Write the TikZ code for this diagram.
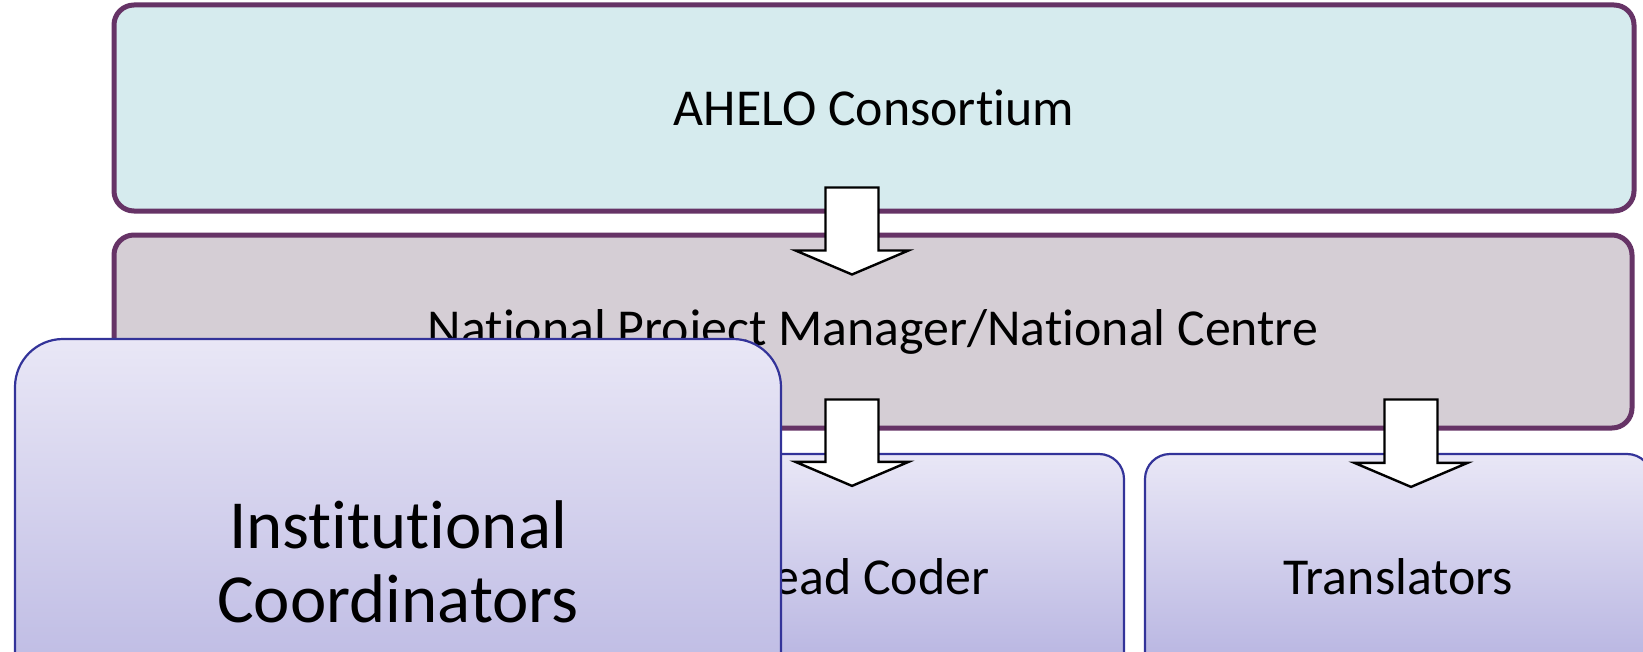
\documentclass[tikz,border=0pt]{standalone}
\usepackage{fontspec}
\setmainfont[Ligatures={NoCommon,NoRequired,NoContextual}]{Carlito}
\usetikzlibrary{calc}
\newcommand{\pix}{0.02cm}
\definecolor{framepurple}{RGB}{102,51,102}
\definecolor{consfill}{RGB}{214,235,238}
\definecolor{npmfill}{RGB}{213,206,213}
\definecolor{roleframe}{RGB}{51,51,153}
\definecolor{roletop}{RGB}{233,231,246}
\definecolor{rolebottom}{RGB}{176,173,222}
\newcommand{\levelfont}{\fontsize{29.5}{35}\selectfont}
\newcommand{\bigrolefont}{\fontsize{39.2}{42.1}\selectfont}
% block arrow from tail point #1 down to tip point #2
\newcommand{\blockarrow}[2]{%
  \draw[blockarrow] ($#1+(-26.5,0)$) -- ($#1+(26.5,0)$) -- ($#2+(26.5,-24)$) -- ($#2+(56.5,-24)$)
    -- #2 -- ($#2+(-56.5,-24)$) -- ($#2+(-26.5,-24)$) -- cycle;}
\tikzset{
  levelbox/.style={draw=framepurple, line width=5*\pix, rounded corners=20*\pix, inner sep=0pt, font=\levelfont},
  rolebox/.style={draw=roleframe, line width=2.2*\pix, rounded corners=25*\pix, inner sep=0pt,
    top color=roletop, bottom color=rolebottom, font=\levelfont},
  blockarrow/.style={draw=black, line width=2.4*\pix, fill=white, line join=miter}
}
\begin{document}
\begin{tikzpicture}[x=\pix, y=-\pix]
\useasboundingbox (0,0) rectangle (1643,652);
\clip (0,0) rectangle (1643,652);

% Hierarchy levels
\node (cons) [levelbox, fill=consfill, minimum width=1520*\pix, minimum height=206*\pix] at (874,108) {AHELO Consortium};
\node (npm) [levelbox, fill=npmfill, minimum width=1518*\pix, minimum height=193*\pix] at (873,331.5) {National Project Manager/National Centre};

% Roles under the national centre
\node (lead) [rolebox, minimum width=507*\pix, minimum height=246*\pix] at (870.5,577) {Lead Coder};
\node (trans) [rolebox, minimum width=507*\pix, minimum height=246*\pix] at (1398.5,577) {Translators};

% Arrows
\coordinate (c1) at ($(cons.south)+(-22,-26)$);
\coordinate (n1) at ($(npm.north)+(-21,42)$);
\coordinate (n2) at ($(npm.south)+(-21,-31)$);
\coordinate (l2) at ($(lead.north)+(-18.5,33)$);
\coordinate (n3) at ($(npm.south)+(538,-31)$);
\coordinate (t3) at ($(trans.north)+(12.5,34)$);
\blockarrow{(c1)}{(n1)}
\blockarrow{(n2)}{(l2)}
\blockarrow{(n3)}{(t3)}

% Front box
\node (inst) [rolebox, rounded corners=48*\pix, align=center, font=\bigrolefont, minimum width=766*\pix, minimum height=445*\pix] at (398,561.5) {Institutional\\Coordinators};

\end{tikzpicture}
\end{document}
